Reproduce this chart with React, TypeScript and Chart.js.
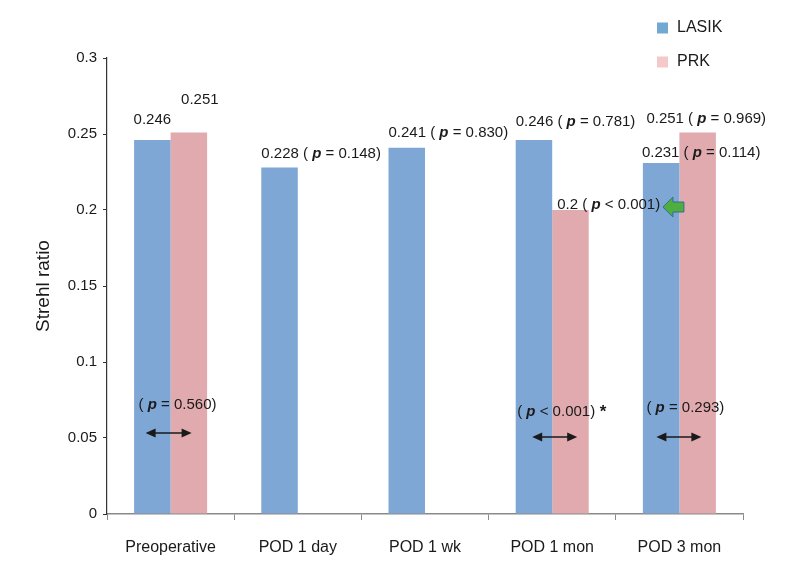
import React, { useEffect, useRef } from 'react';
import { Chart, registerables } from 'chart.js';

Chart.register(...registerables);

// ---- data ----
const categories = ['Preoperative', 'POD 1 day', 'POD 1 wk', 'POD 1 mon', 'POD 3 mon'];
const seriesNames = ['LASIK', 'PRK'];
const lasikValues: (number | null)[] = [0.246, 0.228, 0.241, 0.246, 0.231];
const prkValues: (number | null)[] = [0.251, null, null, 0.2, 0.251];
const yTickValues = [0, 0.05, 0.1, 0.15, 0.2, 0.25, 0.3];
const yAxisTitle = 'Strehl ratio';

// bar value labels: dataset index, category index, p-value text (null = none)
const barLabelDs = [0, 1, 0, 0, 0, 1, 1, 0];
const barLabelCat = [0, 0, 1, 2, 3, 3, 4, 4];
const barLabelP: (string | null)[] = [null, null, '= 0.148', '= 0.830', '= 0.781', '< 0.001', '= 0.969', '= 0.114'];

// LASIK vs PRK comparison p-values per category (null = none)
const pairP: (string | null)[] = ['= 0.560', null, null, '< 0.001', '= 0.293'];
const pairStar = ['', '', '', '*', ''];

// ---- styles / layout (not data) ----
const FONT = "'Liberation Sans', Arial, Helvetica, sans-serif";
const colors = ['#7fa7d6', '#e0aaae'];
const legendColors = ['#72a9d2', '#f4c9c9'];
const labelLayout = [
  { align: 'center', ref: 'center', dx: 0, dy: -20 },
  { align: 'center', ref: 'center', dx: 11, dy: -33 },
  { align: 'left', ref: 'left', dx: 0, dy: -14 },
  { align: 'left', ref: 'left', dx: 0, dy: -15 },
  { align: 'left', ref: 'left', dx: 0, dy: -18 },
  { align: 'left', ref: 'left', dx: 5, dy: -5 },
  { align: 'left', ref: 'left', dx: -33, dy: -14 },
  { align: 'left', ref: 'left', dx: -1, dy: -10 },
];
const pairLayout = [
  { tx: -32, ty: -109, a1: -25, a2: 21, ay: -81 },
  null,
  null,
  { tx: -35, ty: -102, a1: -20, a2: 25, ay: -77 },
  { tx: -33, ty: -106, a1: -23, a2: 22, ay: -77 },
];

type Seg = { text: string; font: string };

function drawRich(ctx: CanvasRenderingContext2D, segs: Seg[], x: number, y: number, align: string) {
  let total = 0;
  for (const s of segs) {
    ctx.font = s.font;
    total += ctx.measureText(s.text).width;
  }
  let cx = align === 'center' ? x - total / 2 : x;
  ctx.textBaseline = 'middle';
  ctx.textAlign = 'left';
  ctx.fillStyle = '#1a1a1a';
  for (const s of segs) {
    ctx.font = s.font;
    ctx.fillText(s.text, cx, y);
    cx += ctx.measureText(s.text).width;
  }
}

function drawDoubleArrow(ctx: CanvasRenderingContext2D, x1: number, x2: number, y: number) {
  const hl = 10;
  const hh = 4.5;
  ctx.save();
  ctx.strokeStyle = '#1a1a1a';
  ctx.fillStyle = '#1a1a1a';
  ctx.lineWidth = 1.5;
  ctx.beginPath();
  ctx.moveTo(x1 + hl - 1, y);
  ctx.lineTo(x2 - hl + 1, y);
  ctx.stroke();
  ctx.beginPath();
  ctx.moveTo(x1, y);
  ctx.lineTo(x1 + hl, y - hh);
  ctx.lineTo(x1 + hl, y + hh);
  ctx.closePath();
  ctx.fill();
  ctx.beginPath();
  ctx.moveTo(x2, y);
  ctx.lineTo(x2 - hl, y - hh);
  ctx.lineTo(x2 - hl, y + hh);
  ctx.closePath();
  ctx.fill();
  ctx.restore();
}

function drawGreenArrow(ctx: CanvasRenderingContext2D, tipX: number, y: number) {
  ctx.save();
  ctx.fillStyle = '#4fae3e';
  ctx.strokeStyle = '#2f6f96';
  ctx.lineWidth = 1;
  ctx.beginPath();
  ctx.moveTo(tipX, y);
  ctx.lineTo(tipX + 10, y - 10);
  ctx.lineTo(tipX + 10, y - 5);
  ctx.lineTo(tipX + 21, y - 5);
  ctx.lineTo(tipX + 21, y + 5);
  ctx.lineTo(tipX + 10, y + 5);
  ctx.lineTo(tipX + 10, y + 10);
  ctx.closePath();
  ctx.fill();
  ctx.stroke();
  ctx.restore();
}

const annotationPlugin = {
  id: 'annotations',
  afterDatasetsDraw(chart: any) {
    const ctx: CanvasRenderingContext2D = chart.ctx;
    const normal = `15px ${FONT}`;
    const pFont = `italic bold 15px ${FONT}`;
    const values = [lasikValues, prkValues];
    ctx.save();
    // bar labels
    for (let k = 0; k < barLabelDs.length; k++) {
      const ds = barLabelDs[k];
      const i = barLabelCat[k];
      const bar = chart.getDatasetMeta(ds).data[i];
      const v = values[ds][i];
      if (!bar || v == null) continue;
      const lay = labelLayout[k];
      const left = bar.x - bar.width / 2;
      const x = (lay.ref === 'left' ? left : bar.x) + lay.dx;
      const y = bar.y + lay.dy;
      const segs: Seg[] = [{ text: String(v), font: normal }];
      const p = barLabelP[k];
      if (p) {
        segs[0].text += ' ( ';
        segs.push({ text: 'p', font: pFont });
        segs.push({ text: ' ' + p + ')', font: normal });
      }
      drawRich(ctx, segs, x, y, lay.align);
    }
    // pair comparisons
    const xScale = chart.scales.x;
    const base = chart.chartArea.bottom;
    for (let i = 0; i < categories.length; i++) {
      const p = pairP[i];
      const lay = pairLayout[i];
      if (!p || !lay) continue;
      const cx = xScale.getPixelForValue(i);
      const segs: Seg[] = [
        { text: '( ', font: normal },
        { text: 'p', font: pFont },
        { text: ' ' + p + ')', font: normal },
      ];
      if (pairStar[i]) segs.push({ text: ' ' + pairStar[i], font: `bold 17px ${FONT}` });
      drawRich(ctx, segs, cx + lay.tx, base + lay.ty, 'left');
      drawDoubleArrow(ctx, cx + lay.a1, cx + lay.a2, base + lay.ay);
    }
    // green arrow pointing at the significant PRK change
    const target = chart.getDatasetMeta(0).data[4];
    const yScale = chart.scales.y;
    if (target) {
      drawGreenArrow(ctx, target.x - target.width / 2 + 20, yScale.getPixelForValue(prkValues[3] as number) - 3);
    }
    // legend
    ctx.font = `16px ${FONT}`;
    ctx.textBaseline = 'middle';
    ctx.textAlign = 'left';
    const legendY = [28, 62];
    for (let s = 0; s < seriesNames.length; s++) {
      ctx.fillStyle = legendColors[s];
      ctx.fillRect(657, legendY[s] - 5.5, 11, 11);
      ctx.fillStyle = '#1a1a1a';
      ctx.fillText(seriesNames[s], 677, legendY[s]);
    }
    ctx.restore();
  },
};

export default function App() {
  const ref = useRef<HTMLCanvasElement | null>(null);
  useEffect(() => {
    if (!ref.current) return;
    const chart = new Chart(ref.current, {
      type: 'bar',
      data: {
        labels: categories,
        datasets: [
          {
            label: seriesNames[0],
            data: lasikValues,
            backgroundColor: colors[0],
            categoryPercentage: 0.574,
            barPercentage: 1,
          },
          {
            label: seriesNames[1],
            data: prkValues,
            backgroundColor: colors[1],
            categoryPercentage: 0.574,
            barPercentage: 1,
          },
        ],
      },
      options: {
        animation: false,
        responsive: true,
        maintainAspectRatio: false,
        events: [],
        layout: { padding: { top: 58, right: 42, bottom: 0, left: 0 } },
        plugins: {
          legend: { display: false },
          tooltip: { enabled: false },
        },
        scales: {
          x: {
            grid: {
              offset: true,
              drawOnChartArea: false,
              drawTicks: true,
              tickLength: 6,
              color: '#8a8a8a',
            },
            border: { color: '#8a8a8a', width: 1.5 },
            ticks: {
              font: { family: FONT, size: 16 },
              color: '#1a1a1a',
              padding: 18,
            },
            afterFit: (scale: any) => {
              scale.height = 67;
            },
          },
          y: {
            min: 0,
            max: 0.3,
            afterBuildTicks: (scale: any) => {
              scale.ticks = yTickValues.map((v) => ({ value: v }));
            },
            grid: {
              drawOnChartArea: false,
              drawTicks: true,
              tickLength: 4,
              color: '#333',
            },
            border: { color: '#333', width: 1.2 },
            ticks: {
              font: { family: FONT, size: 15 },
              color: '#1a1a1a',
              padding: 6,
              callback: (v: any) => String(Number(Number(v).toFixed(2))),
            },
            title: {
              display: true,
              text: yAxisTitle,
              font: { family: FONT, size: 19 },
              color: '#1a1a1a',
              padding: { top: 32, bottom: 0 },
            },
            afterFit: (scale: any) => {
              scale.width = 107;
            },
          },
        },
      },
      plugins: [annotationPlugin],
    });
    return () => chart.destroy();
  }, []);
  return (
    <div style={{ position: 'fixed', left: 0, top: 0, width: 785, height: 581, background: '#fff' }}>
      <canvas ref={ref} />
    </div>
  );
}
